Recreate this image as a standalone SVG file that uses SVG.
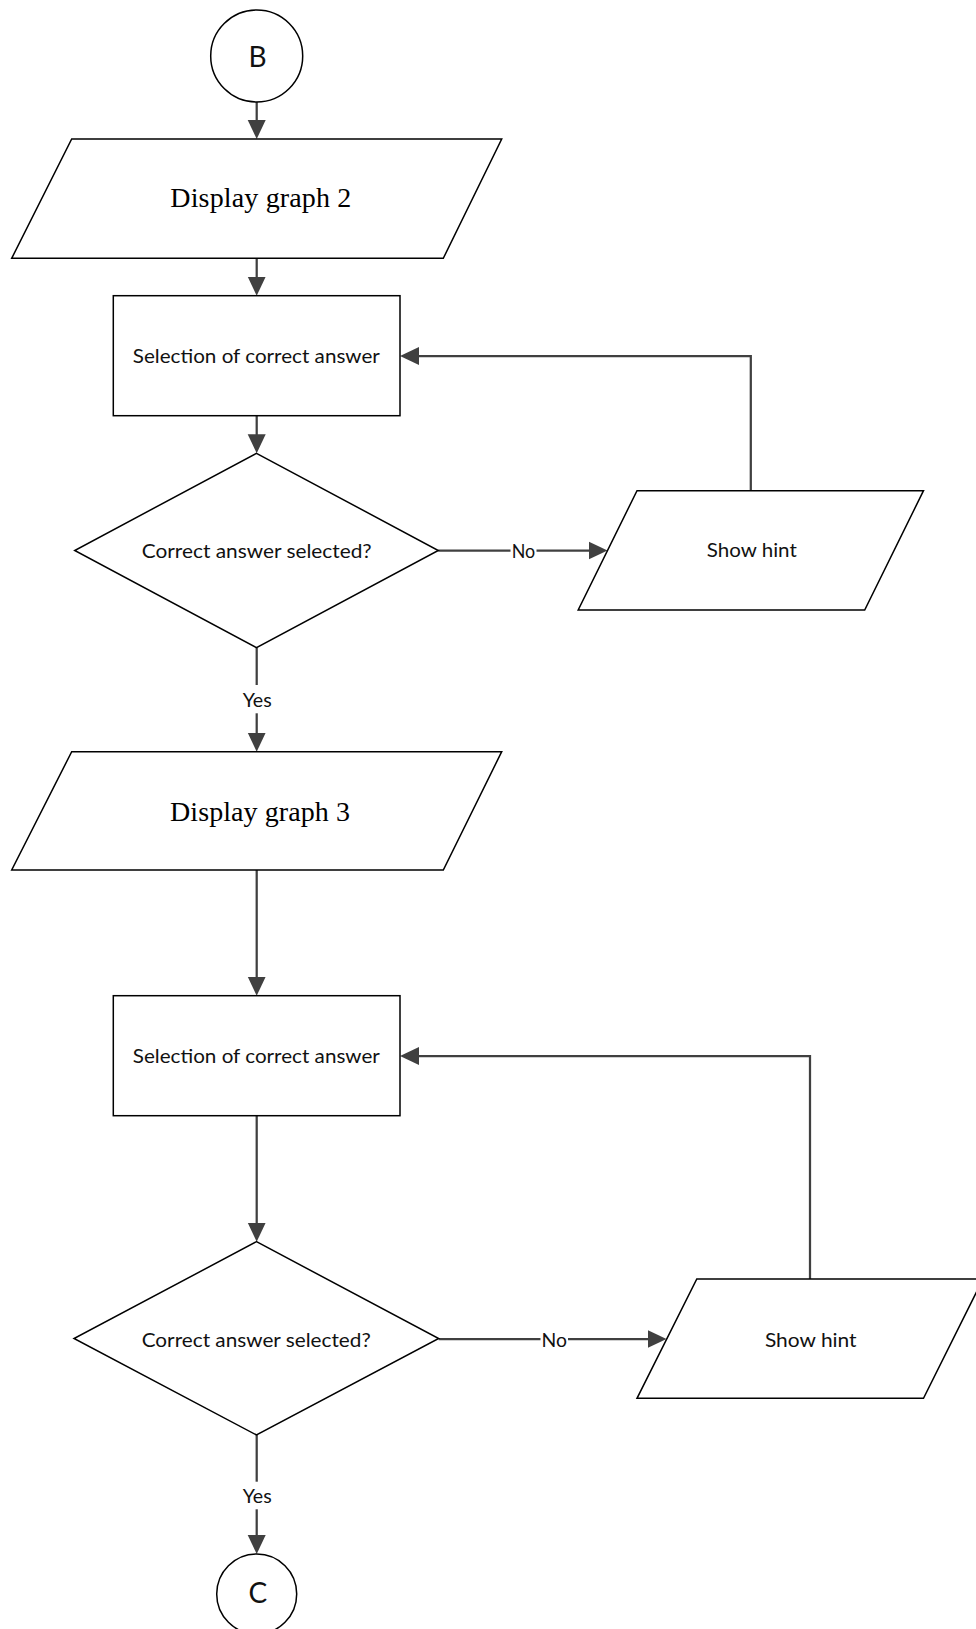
<svg xmlns="http://www.w3.org/2000/svg" width="976" height="1629" viewBox="0 0 976 1629">
  <style>
    .shape { fill: #ffffff; stroke: #000000; stroke-width: 1.5; stroke-linejoin: miter; }
    .conn { fill: none; stroke: #404040; stroke-width: 2.25; }
    .label { font-family: Lato, "Open Sans", "Liberation Sans", sans-serif; font-size: 19px; fill: #111111; text-anchor: middle; }
    .serif { font-family: "Liberation Serif", "Times New Roman", serif; font-size: 28px; fill: #000000; text-anchor: middle; }
    .conn-label { font-family: Lato, "Open Sans", "Liberation Sans", sans-serif; font-size: 19px; fill: #111111; text-anchor: middle; }
    .bg { fill: #ffffff; stroke: none; }
  </style>
  <defs>
    <marker id="arrow" viewBox="0 0 19 19" markerWidth="19" markerHeight="19" refX="13" refY="9.5" orient="auto" markerUnits="userSpaceOnUse">
      <path d="M0,0.5 L19,9.5 L0,18.5 Z" fill="#404040"/>
    </marker>
  </defs>
  <rect width="976" height="1629" fill="#ffffff"/>

  <!-- connectors -->
  <g id="connectors">
    <line class="conn" x1="256.7" y1="102" x2="256.7" y2="133" marker-end="url(#arrow)"/>
    <line class="conn" x1="256.7" y1="258.3" x2="256.7" y2="289.7" marker-end="url(#arrow)"/>
    <line class="conn" x1="256.7" y1="415.7" x2="256.7" y2="447.3" marker-end="url(#arrow)"/>
    <!-- No branch 1 -->
    <line class="conn" x1="438.3" y1="550.5" x2="601.5" y2="550.5" marker-end="url(#arrow)"/>
    <!-- hint 1 back to selection 1 -->
    <polyline class="conn" points="750.8,490.7 750.8,356 406,356" marker-end="url(#arrow)"/>
    <!-- Yes branch 1 -->
    <line class="conn" x1="256.7" y1="647.7" x2="256.7" y2="745.7" marker-end="url(#arrow)"/>
    <line class="conn" x1="256.7" y1="870" x2="256.7" y2="989.7" marker-end="url(#arrow)"/>
    <line class="conn" x1="256.7" y1="1115.7" x2="256.7" y2="1235.7" marker-end="url(#arrow)"/>
    <!-- No branch 2 -->
    <line class="conn" x1="438.7" y1="1339" x2="660.5" y2="1339" marker-end="url(#arrow)"/>
    <!-- hint 2 back to selection 2 -->
    <polyline class="conn" points="810,1279 810,1056 406,1056" marker-end="url(#arrow)"/>
    <!-- Yes branch 2 -->
    <line class="conn" x1="256.7" y1="1435" x2="256.7" y2="1548" marker-end="url(#arrow)"/>

    <rect class="bg" x="510.5" y="540" width="26" height="20"/>
    <text class="conn-label" x="523.5" y="558" textLength="23.5" lengthAdjust="spacingAndGlyphs">No</text>
    <rect class="bg" x="241" y="685" width="32" height="28.3"/>
    <text class="conn-label" x="257.2" y="706.7" textLength="29" lengthAdjust="spacingAndGlyphs">Yes</text>
    <rect class="bg" x="540.5" y="1328" width="27.5" height="20"/>
    <text class="conn-label" x="554.2" y="1347" textLength="25.5" lengthAdjust="spacingAndGlyphs">No</text>
    <rect class="bg" x="241" y="1481.7" width="32" height="27.6"/>
    <text class="conn-label" x="257.2" y="1503.3" textLength="29" lengthAdjust="spacingAndGlyphs">Yes</text>
  </g>

  <!-- connector B -->
  <g id="start-b">
    <circle class="shape" cx="256.7" cy="56" r="46"/>
    <text class="label" x="257.5" y="66.7" style="font-size:28px">B</text>
  </g>

  <g id="display-graph-2">
    <polygon class="shape" points="71.7,139 501.7,139 443.3,258.3 11.7,258.3"/>
    <text class="serif" x="260.8" y="207" textLength="181" lengthAdjust="spacing">Display graph 2</text>
  </g>

  <g id="select-answer-1">
    <rect class="shape" x="113.3" y="295.7" width="286.7" height="120"/>
    <text class="label" x="256.3" y="362.5" textLength="247" lengthAdjust="spacingAndGlyphs">Selection of correct answer</text>
  </g>

  <g id="check-answer-1">
    <polygon class="shape" points="256.5,453.3 438.3,550.5 256.5,647.7 74.7,550.5"/>
    <text class="label" x="256.7" y="557.7" textLength="230" lengthAdjust="spacingAndGlyphs">Correct answer selected?</text>
  </g>

  <g id="show-hint-1">
    <polygon class="shape" points="637,490.7 923.5,490.7 864.7,610 578.2,610"/>
    <text class="label" x="751.8" y="557.3" textLength="90" lengthAdjust="spacingAndGlyphs">Show hint</text>
  </g>

  <g id="display-graph-3">
    <polygon class="shape" points="71.7,751.7 501.7,751.7 443.3,870 11.7,870"/>
    <text class="serif" x="260" y="820.5" textLength="180" lengthAdjust="spacing">Display graph 3</text>
  </g>

  <g id="select-answer-2">
    <rect class="shape" x="113.3" y="995.7" width="286.7" height="120"/>
    <text class="label" x="256.3" y="1063" textLength="247" lengthAdjust="spacingAndGlyphs">Selection of correct answer</text>
  </g>

  <g id="check-answer-2">
    <polygon class="shape" points="256.5,1241.7 438.7,1338.5 256.5,1435 74,1338.5"/>
    <text class="label" x="256.2" y="1346.7" textLength="229" lengthAdjust="spacingAndGlyphs">Correct answer selected?</text>
  </g>

  <g id="show-hint-2">
    <polygon class="shape" points="696.8,1279 983,1279 923.5,1398.3 637,1398.3"/>
    <text class="label" x="810.8" y="1347.3" textLength="91.7" lengthAdjust="spacingAndGlyphs">Show hint</text>
  </g>

  <!-- connector C -->
  <g id="end-c">
    <circle class="shape" cx="256.7" cy="1594" r="40"/>
    <text class="label" x="257.8" y="1603.3" style="font-size:28px">C</text>
  </g>
</svg>
